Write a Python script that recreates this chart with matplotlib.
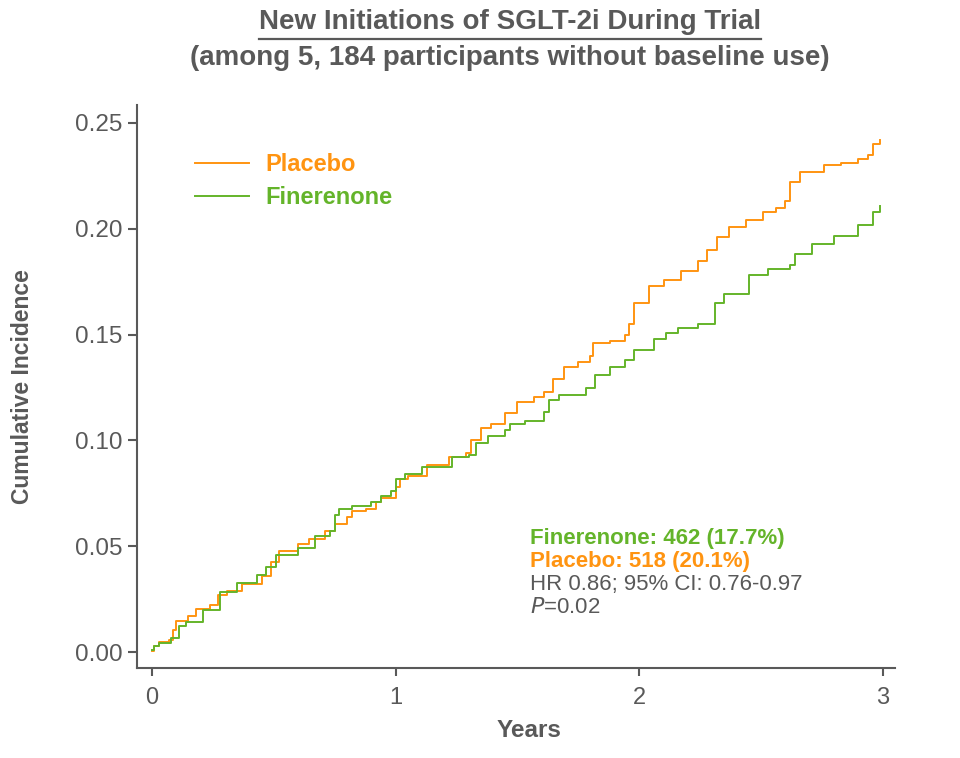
import matplotlib.pyplot as plt
from matplotlib.lines import Line2D

plt.rcParams['font.family'] = ['Liberation Sans', 'DejaVu Sans']

# cumulative incidence curves (event time, value after step)
placebo_t = [0, 0.01, 0.03, 0.07, 0.086, 0.10, 0.15, 0.18, 0.24, 0.27, 0.31, 0.37, 0.43, 0.45,
             0.49, 0.52, 0.60, 0.645, 0.71, 0.75, 0.80, 0.82, 0.88, 0.92, 0.94, 1.0, 1.02, 1.05,
             1.13, 1.22, 1.29, 1.31, 1.35, 1.39, 1.45, 1.50, 1.57, 1.61, 1.645, 1.69, 1.75, 1.80,
             1.81, 1.88, 1.94, 1.96, 1.98, 2.04, 2.10, 2.17, 2.24, 2.28, 2.32, 2.37, 2.44, 2.51,
             2.56, 2.60, 2.62, 2.66, 2.76, 2.83, 2.90, 2.94, 2.96, 2.99]
placebo_y = [0.0005, 0.003, 0.0047, 0.0056, 0.0103, 0.0145, 0.017, 0.0206, 0.0225, 0.027, 0.029,
             0.032, 0.0324, 0.036, 0.0426, 0.048, 0.051, 0.0535, 0.057, 0.0605, 0.0638, 0.0666,
             0.0675, 0.0708, 0.073, 0.078, 0.0816, 0.083, 0.0886, 0.0924, 0.094, 0.100, 0.106,
             0.108, 0.113, 0.118, 0.1206, 0.123, 0.129, 0.1346, 0.137, 0.140, 0.146, 0.147,
             0.1496, 0.155, 0.165, 0.173, 0.176, 0.180, 0.185, 0.190, 0.196, 0.201, 0.204,
             0.208, 0.210, 0.213, 0.222, 0.227, 0.230, 0.231, 0.233, 0.235, 0.240, 0.242]

finer_t = [0, 0.01, 0.03, 0.08, 0.11, 0.14, 0.21, 0.28, 0.35, 0.43, 0.47, 0.51, 0.60, 0.67, 0.73,
           0.75, 0.77, 0.82, 0.90, 0.94, 0.98, 1.0, 1.04, 1.11, 1.23, 1.30, 1.33, 1.38, 1.45, 1.47,
           1.53, 1.61, 1.63, 1.67, 1.78, 1.82, 1.88, 1.94, 1.98, 2.06, 2.11, 2.16, 2.24, 2.31,
           2.35, 2.45, 2.53, 2.62, 2.64, 2.71, 2.80, 2.90, 2.96, 2.99]
finer_y = [0.001, 0.003, 0.0045, 0.0066, 0.0122, 0.014, 0.0197, 0.0286, 0.0328, 0.0366, 0.040,
           0.046, 0.049, 0.055, 0.057, 0.065, 0.0675, 0.069, 0.071, 0.0736, 0.076, 0.0816, 0.084,
           0.0877, 0.092, 0.093, 0.099, 0.102, 0.105, 0.108, 0.109, 0.1135, 0.119, 0.1215, 0.125,
           0.131, 0.1346, 0.138, 0.1426, 0.148, 0.1506, 0.153, 0.155, 0.165, 0.169, 0.178, 0.181,
           0.183, 0.188, 0.193, 0.1965, 0.2017, 0.208, 0.2106]

xticks = [0, 1, 2, 3]
yticks = [0.00, 0.05, 0.10, 0.15, 0.20, 0.25]

ORANGE = '#FF9411'
GREEN = '#64B42A'
GRAY = '#595959'

fig = plt.figure(figsize=(9.6, 7.58), dpi=100)
ax = fig.add_axes([137 / 960, 1 - 668 / 758, (895 - 137) / 960, (668 - 105) / 758])

ax.step(placebo_t, placebo_y, where='post', color=ORANGE, lw=1.4, label='Placebo')
ax.step(finer_t, finer_y, where='post', color=GREEN, lw=1.4, label='Finerenone')

ax.set_xlim(-0.061, 3.05)
ax.set_ylim(-0.0075, 0.2585)
ax.set_xticks(xticks)
ax.set_xticklabels([str(v) for v in xticks])
ax.set_yticks(yticks)
ax.set_yticklabels([f'{v:.2f}' for v in yticks])

for s in ['top', 'right']:
    ax.spines[s].set_visible(False)
for s in ['left', 'bottom']:
    ax.spines[s].set_color(GRAY)
    ax.spines[s].set_linewidth(1.5)
ax.tick_params(axis='x', length=6, width=1.5, color=GRAY, labelcolor=GRAY, labelsize=17, pad=8)
ax.tick_params(axis='y', length=6.5, width=1.5, color=GRAY, labelcolor=GRAY, labelsize=17.5, pad=4)

ax.set_xlabel('Years', fontsize=17.5, fontweight='bold', color=GRAY)
ax.xaxis.set_label_coords((529 - 137) / 758, -0.09)
ax.set_ylabel('Cumulative Incidence', fontsize=16.5, fontweight='bold', color=GRAY)
ax.yaxis.set_label_coords(-0.136, 0.5)

leg = ax.legend(loc='upper left', bbox_to_anchor=(0.0765, 0.915), frameon=False,
                borderpad=0, borderaxespad=0, handlelength=2.3, handletextpad=0.7,
                labelspacing=0.45, labelcolor='linecolor',
                prop={'size': 17, 'weight': 'bold'})

# annotation block
ax.text(1.55, 0.0535, 'Finerenone: 462 (17.7%)', color=GREEN, fontsize=16,
        fontweight='bold', va='center')
ax.text(1.55, 0.0427, 'Placebo: 518 (20.1%)', color=ORANGE, fontsize=16,
        fontweight='bold', va='center')
ax.text(1.55, 0.0319, 'HR 0.86; 95% CI: 0.76-0.97', color=GRAY, fontsize=16, va='center')
ax.text(1.55, 0.0211, '$\\it{P}$=0.02', color=GRAY, fontsize=16, va='center')

# title with underlined first line
t1 = fig.text(510 / 960, 1 - 22 / 758, 'New Initiations of SGLT-2i During Trial',
              ha='center', va='center', fontsize=20, fontweight='bold', color=GRAY)
fig.text(510 / 960, 1 - 58 / 758, '(among 5, 184 participants without baseline use)',
         ha='center', va='center', fontsize=20, fontweight='bold', color=GRAY)
fig.canvas.draw()
bb = t1.get_window_extent().transformed(fig.transFigure.inverted())
fig.add_artist(Line2D([bb.x0, bb.x1], [1 - 39 / 758] * 2, transform=fig.transFigure,
                      color=GRAY, lw=1.6))

fig.savefig('out.png', dpi=100)
